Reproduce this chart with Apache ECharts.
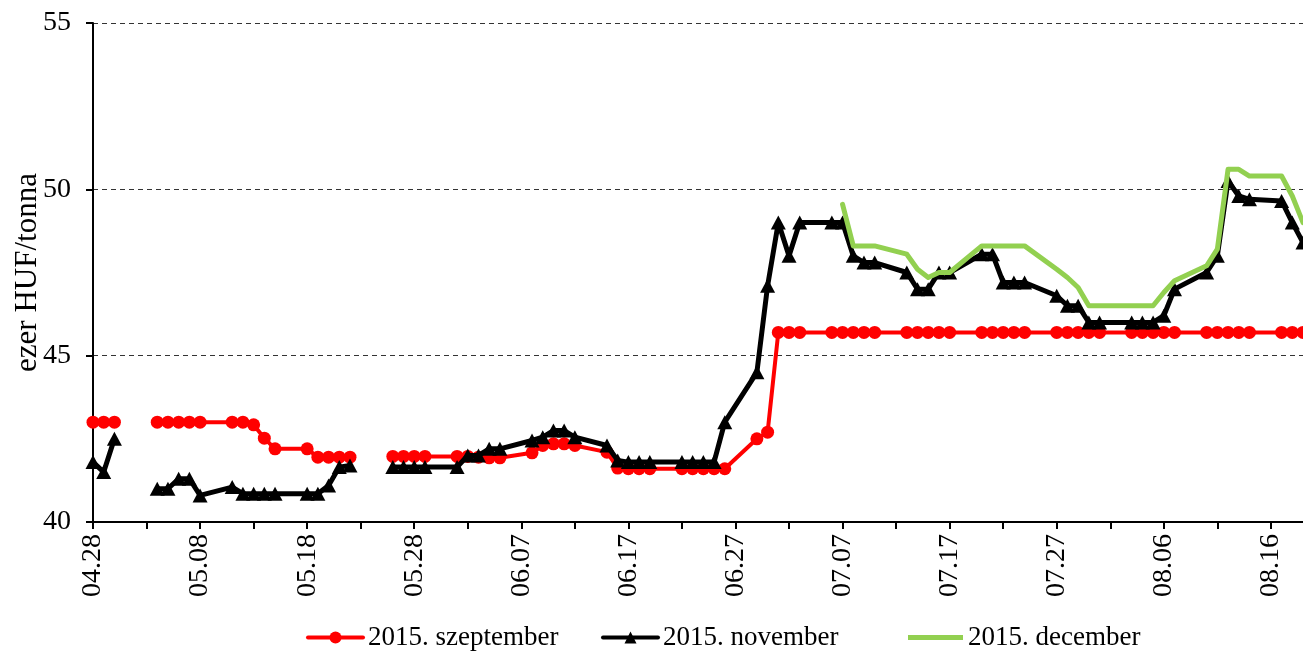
<!DOCTYPE html>
<html>
<head>
<meta charset="utf-8">
<script src="https://cdn.jsdelivr.net/npm/echarts@6/dist/echarts.min.js"></script>
<style>
html,body{margin:0;padding:0;background:#fff;}
#chart{width:1303px;height:651px;}
</style>
</head>
<body>
<div id="chart"></div>
<script>
// Trading days (MM.DD, 2015); holidays kept as empty rows so the lines break
const dates = ['04.28','04.29','04.30','05.01','05.04','05.05','05.06','05.07','05.08','05.11','05.12','05.13','05.14','05.15','05.18','05.19','05.20','05.21','05.22','05.25','05.26','05.27','05.28','05.29','06.01','06.02','06.03','06.04','06.05','06.08','06.09','06.10','06.11','06.12','06.15','06.16','06.17','06.18','06.19','06.22','06.23','06.24','06.25','06.26','06.29','06.30','07.01','07.02','07.03','07.06','07.07','07.08','07.09','07.10','07.13','07.14','07.15','07.16','07.17','07.20','07.21','07.22','07.23','07.24','07.27','07.28','07.29','07.30','07.31','08.03','08.04','08.05','08.06','08.07','08.10','08.11','08.12','08.13','08.14','08.17','08.18','08.19'];
const szeptember = [43.0,43.0,43.0,null,43.0,43.0,43.0,43.0,43.0,43.0,43.0,42.92,42.52,42.2,42.2,41.95,41.95,41.95,41.95,null,41.97,41.97,41.97,41.97,41.97,41.97,41.95,41.93,41.93,42.08,42.3,42.35,42.35,42.3,42.1,41.62,41.6,41.6,41.6,41.6,41.6,41.6,41.6,41.6,42.5,42.7,45.7,45.7,45.7,45.7,45.7,45.7,45.7,45.7,45.7,45.7,45.7,45.7,45.7,45.7,45.7,45.7,45.7,45.7,45.7,45.7,45.7,45.7,45.7,45.7,45.7,45.7,45.7,45.7,45.7,45.7,45.7,45.7,45.7,45.7,45.7,45.7];
const november = [41.8,41.5,42.5,null,41.0,41.0,41.3,41.3,40.8,41.05,40.85,40.85,40.85,40.85,40.85,40.85,41.1,41.65,41.7,null,41.65,41.65,41.65,41.65,41.65,42.0,42.0,42.2,42.2,42.45,42.55,42.75,42.75,42.55,42.3,41.85,41.8,41.8,41.8,41.8,41.8,41.8,41.8,43.0,44.5,47.1,49.0,48.0,49.0,49.0,49.0,48.0,47.8,47.8,47.5,47.0,47.0,47.5,47.5,48.05,48.05,47.2,47.2,47.2,46.8,46.5,46.5,46.0,46.0,46.0,46.0,46.0,46.2,47.0,47.5,48.0,50.25,49.8,49.7,49.65,49.0,48.4];
const december = [null,null,null,null,null,null,null,null,null,null,null,null,null,null,null,null,null,null,null,null,null,null,null,null,null,null,null,null,null,null,null,null,null,null,null,null,null,null,null,null,null,null,null,null,null,null,null,null,null,null,49.55,48.3,48.3,48.3,48.05,47.6,47.35,47.5,47.5,48.3,48.3,48.3,48.3,48.3,47.6,47.35,47.05,46.5,46.5,46.5,46.5,46.5,46.9,47.25,47.7,48.2,50.6,50.6,50.4,50.4,49.8,49.0];
const seriesNames = ['2015. szeptember','2015. november','2015. december'];
const yTicks = [40,45,50,55];

const YEAR = 2015;
const START = new Date(YEAR, 3, 28);
const END = new Date(YEAR, 7, 19);
function dayIndex(s){
  const [m,d] = s.split('.').map(Number);
  return Math.round((new Date(YEAR, m-1, d) - START)/86400000);
}
function dayLabel(i){
  const dt = new Date(START.getTime() + i*86400000);
  const mm = String(dt.getMonth()+1).padStart(2,'0');
  const dd = String(dt.getDate()).padStart(2,'0');
  return mm + '.' + dd;
}
const xMax = Math.round((END - START)/86400000);
const pairs = vals => dates.map((d,k) => [dayIndex(d), vals[k]]);

const FONT = 'Liberation Serif';
const legendBase = {
  top:624, padding:0, itemWidth:55, itemHeight:15,
  textStyle:{fontFamily:FONT, fontSize:27, color:'#000'},
  lineStyle:{width:4}
};
const chart = echarts.init(document.getElementById('chart'), null, {renderer:'canvas'});
chart.setOption({
  animation:false,
  backgroundColor:'#fff',
  grid:{left:93, right:0, top:23, bottom:129, containLabel:false, outerBoundsMode:'none'},
  legend:[
    Object.assign({}, legendBase, {left:306, data:[seriesNames[0]]}),
    Object.assign({}, legendBase, {left:601, data:[seriesNames[1]]}),
    Object.assign({}, legendBase, {left:908, itemHeight:5, data:[{name:seriesNames[2], icon:'rect'}]})
  ],
  xAxis:{
    type:'value', min:0, max:xMax, interval:5,
    axisLine:{show:true, onZero:false, lineStyle:{color:'#000', width:2}},
    axisTick:{show:true, length:7, lineStyle:{color:'#000', width:2}},
    axisLabel:{rotate:90, margin:12, fontFamily:FONT, fontSize:28, color:'#000',
      showMaxLabel:false,
      formatter: v => (v % 10 === 0 ? dayLabel(v) : '')},
    splitLine:{show:false}
  },
  yAxis:{
    type:'value', min:yTicks[0], max:yTicks[yTicks.length-1], interval:5,
    name:'ezer HUF/tonna', nameLocation:'middle', nameGap:50, nameMoveOverlap:false,
    nameTextStyle:{fontFamily:FONT, fontSize:31, color:'#000'},
    axisLine:{show:true, lineStyle:{color:'#000', width:2}},
    axisTick:{show:true, length:7, lineStyle:{color:'#000', width:2}},
    axisLabel:{margin:22, fontFamily:FONT, fontSize:28, color:'#000'},
    splitLine:{show:true, lineStyle:{color:'#333', width:1, type:[5,4]}}
  },
  series:[
    {name:seriesNames[0], type:'line', data:pairs(szeptember), connectNulls:false,
     symbol:'circle', symbolSize:13, showAllSymbol:true,
     lineStyle:{color:'#FF0000', width:4, cap:'round', join:'round'},
     itemStyle:{color:'#FF0000', borderWidth:0}, z:2},
    {name:seriesNames[1], type:'line', data:pairs(november), connectNulls:false,
     symbol:'triangle', symbolSize:[15,14], showAllSymbol:true,
     lineStyle:{color:'#000000', width:5, cap:'round', join:'round'},
     itemStyle:{color:'#000000', borderWidth:0}, z:3},
    {name:seriesNames[2], type:'line', data:pairs(december), connectNulls:false,
     symbol:'none', showSymbol:false,
     lineStyle:{color:'#92D050', width:5, cap:'round', join:'round'},
     itemStyle:{color:'#92D050'}, z:4}
  ]
});
</script>
</body>
</html>
